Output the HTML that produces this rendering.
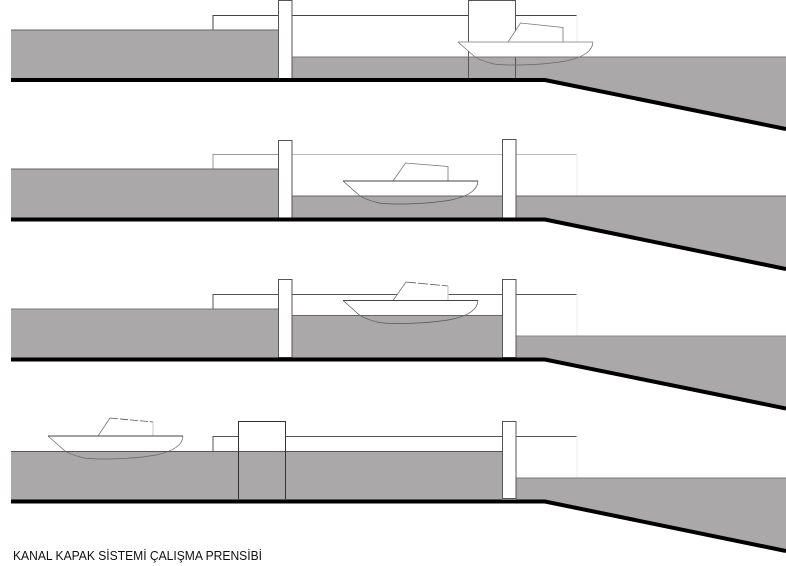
<!DOCTYPE html>
<html>
<head>
<meta charset="utf-8">
<style>
html,body{margin:0;padding:0;background:#fff;width:786px;height:566px;overflow:hidden}
svg{display:block}
text{font-family:"Liberation Sans",sans-serif}
</style>
</head>
<body>
<svg width="786" height="566" viewBox="0 0 786 566" xmlns="http://www.w3.org/2000/svg">
<rect width="786" height="566" fill="#fff"/>

<!-- Panel 1 -->
<g>
  <path d="M11 30H278V79H11Z" fill="#aaa8a9"/>
  <path d="M292 57H786V130L545 79H292Z" fill="#aaa8a9"/>
  <path d="M213 30V15.500H278M292 15.500H468M515 15.500H577" fill="none" stroke="#444"/>
  <path d="M577 15V57" fill="none" stroke="#eee"/>
  <path d="M11 30H278" stroke="#666"/>
  <rect x="278.500" y="0.500" width="13.500" height="78" fill="#fff" stroke="#555"/>
  <path d="M468.500 0.500H515.500V57H468.500Z" fill="#fff"/>
  <path d="M468.500 78V0.500H515.500V78" fill="none" stroke="#555"/>
  <g transform="translate(458,42)">
    <path d="M0 0H135C134.500 6 131 11 126 15H17Z" fill="#fff"/>
    <path d="M0 0L17 15C22 18 28 20 36 22C52 24 85 23 108 19C126 15 134.500 9 135 0" fill="none" stroke="#666" stroke-width="0.700"/>
    <path d="M50 0L62.500 -19L105 -14.500V0" fill="#fff" stroke="#777" stroke-width="0.800"/>
    <path d="M0 0H135" stroke="#999"/>
  </g>
  <path d="M292 57H786" stroke="#777"/>
  <path d="M11 80H545L786 129" fill="none" stroke="#000" stroke-width="4"/>
</g>

<!-- Panel 2 -->
<g>
  <path d="M11 169H278V219H11Z" fill="#aaa8a9"/>
  <path d="M292 196H786V270L545 219H292Z" fill="#aaa8a9"/>
  <path d="M213 169V154.500H278" fill="none" stroke="#999"/>
  <path d="M292 154.500H502M516 154.500H577" fill="none" stroke="#bbb"/>
  <path d="M577 154V196" stroke="#eee"/>
  <path d="M11 169H278" stroke="#666"/>
  <rect x="278.500" y="140.500" width="13.500" height="78" fill="#fff" stroke="#555"/>
  <g transform="translate(343,181)">
    <path d="M0 0H135C134.500 6 131 11 126 15H17Z" fill="#fff"/>
    <path d="M0 0L17 15C22 18 28 20 36 22C52 24 85 23 108 19C126 15 134.500 9 135 0" fill="none" stroke="#555" stroke-width="0.700"/>
    <path d="M50 0L62.500 -18L105 -14.500V0" fill="#fff" stroke="#777" stroke-width="0.800"/>
    <path d="M0 0H135" stroke="#444"/>
  </g>
  <path d="M292 196H786" stroke="#666"/>
  <rect x="502.500" y="139.500" width="13.500" height="79" fill="#fff" stroke="#555"/>
  <path d="M11 219.500H545L786 269" fill="none" stroke="#000" stroke-width="4"/>
</g>

<!-- Panel 3 -->
<g>
  <path d="M11 309H278V359H11Z" fill="#aaa8a9"/>
  <path d="M292 316H502V359H292Z" fill="#aaa8a9"/>
  <path d="M516 336H786V409L545 359H516Z" fill="#aaa8a9"/>
  <path d="M213 309V294.500H278M292 294.500H502M516 294.500H577" fill="none" stroke="#555"/>
  <path d="M577 294V336" stroke="#eee"/>
  <path d="M11 309H278" stroke="#777"/>
  <path d="M516 336H786" stroke="#888"/>
  <rect x="278.500" y="279.500" width="13.500" height="78" fill="#fff" stroke="#555"/>
  <g transform="translate(343,300.500)">
    <path d="M0 0H135C134.500 6 131 11 126 15H17Z" fill="#fff"/>
    <path d="M0 0L17 15C22 18 28 20 36 22C52 24 85 23 108 19C126 15 134.500 9 135 0" fill="none" stroke="#555" stroke-width="0.700"/>
    <path d="M50 0L63 -18.500L105 -14.500V0H50Z" fill="#fff"/>
    <path d="M50 0L63 -18.500" fill="none" stroke="#777" stroke-width="0.800"/>
    <path d="M63 -18.500L105 -14.500" fill="none" stroke="#555" stroke-width="0.800" stroke-dasharray="10 2"/>
    <path d="M105 -14.500V0" fill="none" stroke="#ccc" stroke-width="1.300"/>
    <path d="M0 0H135" stroke="#444"/>
  </g>
  <path d="M292 315.500H502" stroke="#666"/>
  <rect x="502.500" y="279.500" width="13.500" height="78" fill="#fff" stroke="#555"/>
  <path d="M11 359.500H545L786 408.500" fill="none" stroke="#000" stroke-width="4"/>
</g>

<!-- Panel 4 -->
<g>
  <path d="M11 451H502V501H11Z" fill="#aaa8a9"/>
  <path d="M516 478H786V552L545 501H516Z" fill="#aaa8a9"/>
  <path d="M213 451V436.500H238M285 436.500H502M516 436.500H577" fill="none" stroke="#555"/>
  <path d="M577 436V478" stroke="#eee"/>
  <path d="M516 478H786" stroke="#777"/>
  <path d="M238.500 451V421.500H285.500V451Z" fill="#fff"/>
  <path d="M238.500 499V421.500H285.500V499" fill="none" stroke="#333"/>
  <rect x="502.500" y="421.500" width="13.500" height="77" fill="#fff" stroke="#555"/>
  <g transform="translate(48,436)">
    <path d="M0 0H135C134.500 6 131 11 126 15H17Z" fill="#fff"/>
    <path d="M0 0L17 15C22 18 28 20 36 22C52 24 85 23 108 19C126 15 134.500 9 135 0" fill="none" stroke="#666" stroke-width="0.700"/>
    <path d="M50 0L62 -18L105 -14V0H50Z" fill="#fff"/>
    <path d="M50 0L62 -18" fill="none" stroke="#777" stroke-width="0.800"/>
    <path d="M62 -18L105 -14" fill="none" stroke="#555" stroke-width="0.800" stroke-dasharray="8 2"/>
    <path d="M105 -14V0" fill="none" stroke="#bbb" stroke-width="0.800"/>
    <path d="M0 0H135" stroke="#444"/>
  </g>
  <path d="M11 451.500H502" stroke="#555"/>
  <path d="M238.500 451V499M285.500 451V499" stroke="#333"/>
  <path d="M11 501.500H545L786 551" fill="none" stroke="#000" stroke-width="4"/>
</g>

<text x="13" y="560" font-size="12.500" fill="#111" textLength="249" lengthAdjust="spacingAndGlyphs">KANAL KAPAK SİSTEMİ ÇALIŞMA PRENSİBİ</text>
</svg>
</body>
</html>
